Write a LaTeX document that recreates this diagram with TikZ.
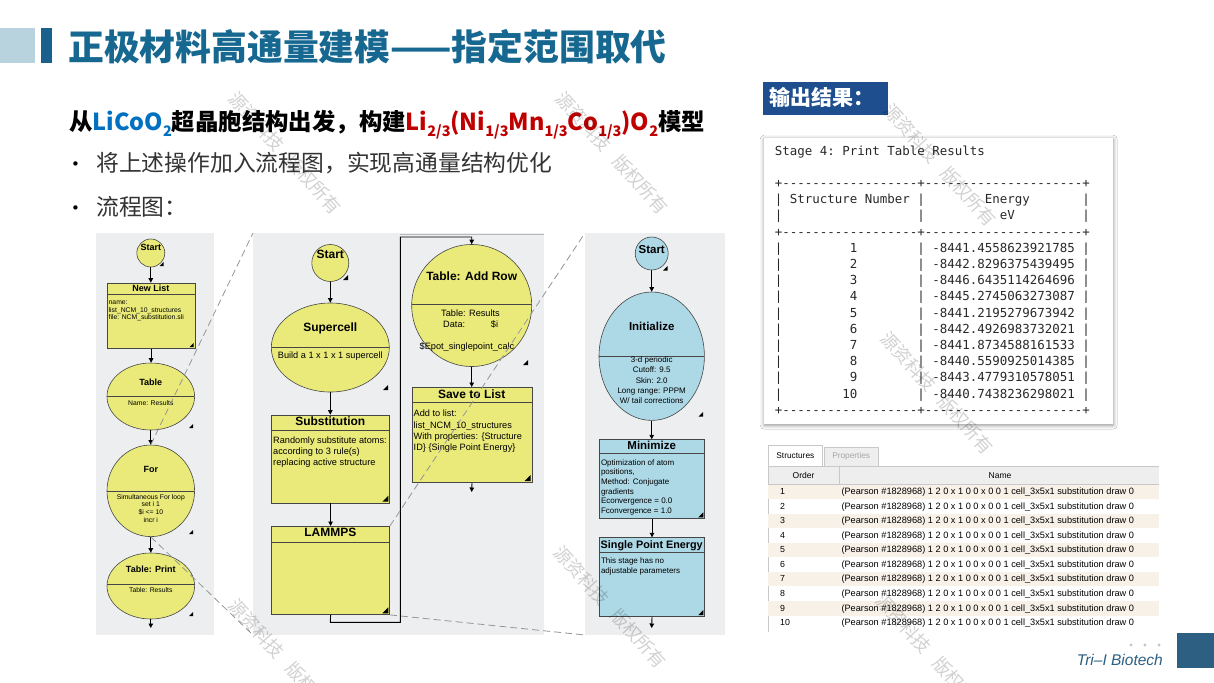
\documentclass[tikz,border=0pt]{standalone}
\usepackage{fontspec}
\setmainfont{Liberation Sans}
\setmonofont{DejaVu Sans Mono}
\newfontfamily\cjk{Noto Sans CJK SC}
\newfontfamily\dejavu{DejaVu Sans}
\usetikzlibrary{arrows.meta,shapes.geometric,shadows.blur}
\definecolor{ylw}{RGB}{233,234,122}
\definecolor{lbl}{RGB}{173,216,230}
\definecolor{pnl}{RGB}{236,238,240}
\definecolor{edge}{RGB}{70,70,70}
\definecolor{ttl}{RGB}{22,104,145}
\definecolor{sq}{RGB}{184,210,222}
\definecolor{barc}{RGB}{25,96,140}
\definecolor{outb}{RGB}{31,78,143}
\definecolor{lired}{RGB}{192,0,0}
\definecolor{liblu}{RGB}{0,112,192}
\definecolor{txtc}{RGB}{51,51,51}
\definecolor{rowb}{RGB}{247,241,232}
\definecolor{gridc}{RGB}{200,200,200}
\definecolor{hdrc}{RGB}{238,238,238}
\definecolor{logoc}{RGB}{44,95,130}
\definecolor{dshc}{RGB}{150,150,150}
\definecolor{monoc}{RGB}{40,40,40}
\newcommand\fs[1]{\fontsize{#1}{#1}\selectfont}
\newcommand\sbx[1]{\raisebox{-0.22em}{\fontsize{14.5}{14.5}\selectfont #1}}
\newcommand\tri[3]{\fill[black] (#1,#2) -- ++(-#3,0) -- ++(#3,-#3) -- cycle;}
\newcommand\ellnode[7]{%
  \node[draw=edge, fill=#2, ellipse, inner sep=0pt, line width=0.6pt,
        minimum width={2*#5}, minimum height={2*#6}] (#1) at (#3,#4) {};
  \begin{scope}
    \clip (#3,#4) ellipse [x radius=#5pt, y radius=#6pt];
    \draw[edge, line width=0.6pt] ({#3-#5},#7) -- ({#3+#5},#7);
  \end{scope}}
\newcommand\boxnode[7]{%
  \node[draw=edge, fill=#2, inner sep=0pt, line width=0.6pt, anchor=north west,
        minimum width={#5-#3}, minimum height={#6-#4}] (#1) at (#3,#4) {};
  \draw[edge, line width=0.6pt] (#3,#7) -- (#5,#7);}
\newcommand\txtlines[6]{%
  \foreach \mylin [count=\ii] in {#6}{%
    \node[#2] (#1\ii) at (#3,{#4+(\ii-1)*#5}) {\mylin};}}
\begin{document}
\begin{tikzpicture}[x=1pt,y=-1pt,
  arr/.style={-{Triangle[length=4.5pt,width=4.5pt]}, line width=0.9pt, black},
  zoomln/.style={dshc, line width=0.8pt, dash pattern=on 7pt off 4pt},
  lh/.style={anchor=base, inner sep=0pt, font=\bfseries\fs{9}},
  lb/.style={anchor=base west, inner sep=0pt, font=\fs{6.8}},
  lbc/.style={anchor=base, inner sep=0pt, font=\fs{6.8}},
  mh/.style={anchor=base, inner sep=0pt, font=\bfseries\fs{12}},
  mb/.style={anchor=base west, inner sep=0pt, font=\fs{9.2}},
  mbc/.style={anchor=base, inner sep=0pt, font=\fs{9.2}},
  rh/.style={anchor=base, inner sep=0pt, font=\bfseries\fs{11.5}},
  rb/.style={anchor=base west, inner sep=0pt, font=\fs{8}},
  rbc/.style={anchor=base, inner sep=0pt, font=\fs{8}},
  mono/.style={anchor=base west, inner sep=0pt, font=\ttfamily\fs{12.45}, text=monoc},
  bul/.style={anchor=base west, inner sep=0pt, font=\dejavu\fs{15}, text=black},
  wm/.style={inner sep=0pt, font=\cjk\fs{18}, text=black, opacity=0.18, rotate=-48}]
\useasboundingbox (0,0) rectangle (1214,682);
\fill[white] (0,0) rectangle (1214,682);

% ---------- title area ----------
\fill[sq] (0,28) rectangle (35,63);
\fill[barc] (41,28) rectangle (52,63);
\node[anchor=base west, inner sep=0pt, font=\cjk\bfseries\fs{35.8}, text=ttl] (title) at (68,60.5) {正极材料高通量建模——指定范围取代};
\node[anchor=base west, inner sep=0pt, font=\cjk\bfseries\fs{23.4}] (sub) at (69,131)
  {从{\color{liblu}LiCoO\sbx{2}}超晶胞结构出发，构建{\color{lired}Li\sbx{2/3}(Ni\sbx{1/3}Mn\sbx{1/3}Co\sbx{1/3})O\sbx{2}}模型};
\node[bul] (b1dot) at (71,169) {•};
\node[anchor=base west, inner sep=0pt, font=\cjk\fs{22.8}, text=txtc] (b1) at (96,171.7) {将上述操作加入流程图，实现高通量结构优化};
\node[bul] (b2dot) at (71,213) {•};
\node[anchor=base west, inner sep=0pt, font=\cjk\fs{22.8}, text=txtc] (b2) at (96,215.7) {流程图：};

% ---------- panels ----------
\fill[pnl] (96,233) rectangle (214,635);
\fill[pnl] (253,233) rectangle (544,635);
\fill[pnl] (585,233) rectangle (725,635);
\draw[gray!55, line width=0.6pt] (400,234) -- (544,234);

% ---------- left flowchart ----------
\node[draw=edge, fill=ylw, circle, minimum size=28, inner sep=0pt, line width=0.6pt] (ls) at (150.8,253) {};
\node[lh] (lsT) at (150.8,250) {Start};
\tri{163.5}{266}{4}
\boxnode{lnew}{ylw}{107}{282.7}{194.6}{348}{294.3}
\node[lh] (lnewT) at (150.8,291) {New List};
\txtlines{lnewB}{lb}{108.5}{304.4}{7.7}{name:,list\_NCM\_10\_structures,file: NCM\_substitution.sli}
\tri{193.6}{347}{4}
\ellnode{ltab}{ylw}{150.8}{396.5}{43.8}{33.5}{396.3}
\node[lh] (ltabT) at (150.8,385) {Table};
\node[lbc] (ltabB) at (150.8,405) {Name: Results};
\tri{193}{428}{4}
\ellnode{lfor}{ylw}{150.8}{490.8}{43.8}{45.8}{491}
\node[lh] (lforT) at (150.8,472.3) {For};
\txtlines{lforB}{lbc}{150.8}{499}{7.8}{Simultaneous For loop,set i 1,\$i <= 10,incr i}
\tri{193}{534}{4}
\ellnode{lprt}{ylw}{150.8}{586}{43.8}{33}{584.3}
\node[lh] (lprtT) at (150.8,572.3) {Table: Print};
\node[lbc] (lprtB) at (150.8,592.6) {Table: Results};
\tri{193}{616}{4}
\coordinate (lout) at (150.8,628);
\draw[arr] (ls.south) -- (ls.south |- lnew.north);
\draw[arr] (lnew.south) -- (lnew.south |- ltab.north);
\draw[arr] (ltab.south) -- (ltab.south |- lfor.north);
\draw[arr] (lfor.south) -- (lfor.south |- lprt.north);
\draw[arr] (lprt.south) -- (lout);

% ---------- middle flowchart ----------
\node[draw=edge, fill=ylw, circle, minimum size=37, inner sep=0pt, line width=0.6pt] (ms) at (330.3,263) {};
\node[mh] (msT) at (330.3,258.7) {Start};
\tri{348}{280}{5}
\ellnode{msup}{ylw}{330.3}{347.5}{59}{44.5}{347.7}
\node[mh] (msupT) at (330.3,331) {Supercell};
\node[mbc] (msupB) at (330.3,358.5) {Build a 1 x 1 x 1 supercell};
\tri{388}{390}{5}
\boxnode{msub}{ylw}{271.3}{414.7}{389.3}{502.7}{430}
\node[mh] (msubT) at (330.3,425.5) {Substitution};
\txtlines{msubB}{mb}{273}{443.2}{11.2}{Randomly substitute atoms:,according to 3 rule(s),replacing active structure}
\tri{388.3}{501.7}{6}
\boxnode{mlam}{ylw}{271.3}{526}{389.3}{614.3}{542.3}
\node[mh] (mlamT) at (330.3,536.5) {LAMMPS};
\tri{388.3}{613.3}{6}
\ellnode{madd}{ylw}{471.7}{305.5}{60}{61}{304.3}
\node[mh] (maddT) at (471.7,280.5) {Table: Add Row};
\node[mbc] (maddB1) at (470.5,316) {Table: Results};
\node[mb] (maddB2) at (443,327) {Data:};
\node[mb] (maddB3) at (490.7,327) {\$i};
\node[mbc] (maddB4) at (467,349.5) {\$Epot\_singlepoint\_calc};
\tri{528}{365}{5}
\boxnode{msave}{ylw}{411.7}{387}{531.7}{482}{402}
\node[mh] (msaveT) at (471.7,398.5) {Save to List};
\txtlines{msaveB}{mb}{413.5}{416.9}{11.1}{Add to list:,list\_NCM\_10\_structures,With properties: \{Structure,ID\} \{Single Point Energy\}}
\tri{530.7}{481}{6}
\coordinate (lp1) at (330.3,622.3);
\coordinate (lp2) at (400.3,622.3);
\coordinate (lp3) at (400.3,237);
\coordinate (lp4) at (471.7,237);
\coordinate (mout) at (471.7,492);
\draw[arr] (ms.south) -- (ms.south |- msup.north);
\draw[arr] (msup.south) -- (msup.south |- msub.north);
\draw[arr] (msub.south) -- (msub.south |- mlam.north);
\draw[arr] (mlam.south) -- (lp1) -- (lp2) -- (lp3) -- (lp4) -- (madd.north);
\draw[arr] (madd.south) -- (madd.south |- msave.north);
\draw[arr] (msave.south) -- (mout);

% ---------- right flowchart ----------
\node[draw=edge, fill=lbl, circle, minimum size=33, inner sep=0pt, line width=0.6pt] (rs) at (651.7,253.5) {};
\node[rh] (rsT) at (651.7,253) {Start};
\tri{667.5}{270.5}{4.5}
\ellnode{rini}{lbl}{651.7}{356.2}{52.7}{64.2}{356}
\node[rh] (riniT) at (651.7,330) {Initialize};
\txtlines{riniB}{rbc}{651.7}{362.5}{10.3}{3-d periodic,Cutoff: 9.5,Skin: 2.0,Long range: PPPM,W/ tail corrections}
\tri{703}{416.5}{4.5}
\boxnode{rmin}{lbl}{599}{439.3}{704.4}{518.3}{453.3}
\node[rh] (rminT) at (651.7,449) {Minimize};
\txtlines{rminB}{rb}{600.8}{465}{9.7}{Optimization of atom,{positions,},Method: Conjugate,gradients,Econvergence = 0.0,Fconvergence = 1.0}
\tri{703.4}{517.3}{5}
\boxnode{rspe}{lbl}{599}{537.3}{704.4}{616}{552.7}
\node[anchor=base, inner sep=0pt, font=\bfseries\fs{10.8}] (rspeT) at (651.7,548) {Single Point Energy};
\txtlines{rspeB}{rb}{600.8}{563}{10}{This stage has no,adjustable parameters}
\tri{703.4}{615}{5}
\coordinate (rout) at (651.7,628);
\draw[arr] (rs.south) -- (rs.south |- rini.north);
\draw[arr] (rini.south) -- (rini.south |- rmin.north);
\draw[arr] (rmin.south) -- (rmin.south |- rspe.north);
\draw[arr] (rspe.south) -- (rout);

% ---------- zoom lines ----------
\coordinate (mTL) at (253,233);
\coordinate (mBL) at (253,635);
\coordinate (rTL) at (585,233);
\coordinate (rBL) at (585,635);
\draw[zoomln] (lfor.north) -- (mTL);
\draw[zoomln] (lfor.south) -- (mBL);
\draw[zoomln] (mlam.north east) -- (rTL);
\draw[zoomln] (mlam.south east) -- (rBL);

% ---------- output label ----------
\node[fill=outb, anchor=north west, minimum width=125, minimum height=33, inner sep=0pt] (outlbl) at (763,82) {};
\node[anchor=base west, inner sep=0pt, font=\cjk\bfseries\fs{21}, text=white] (outlblT) at (769,106) {输出结果：};

% ---------- printed table ----------
\node[fill=white, anchor=north west, minimum width=349, minimum height=286, inner sep=0pt,
      blur shadow={shadow blur radius=4pt, shadow xshift=0pt, shadow yshift=-1.5pt, shadow opacity=45}] (outp) at (764,137.5) {};
\node[mono] (o0) at (774.75,155) {Stage~4:~Print~Table~Results};
\node[mono] (o2) at (774.75,187.4) {+------------------+---------------------+};
\node[mono] (o3) at (774.75,203.6) {|~Structure~Number~|~~~~~~~~Energy~~~~~~~|};
\node[mono] (o4) at (774.75,219.8) {|~~~~~~~~~~~~~~~~~~|~~~~~~~~~~eV~~~~~~~~~|};
\node[mono] (o5) at (774.75,236) {+------------------+---------------------+};
\node[mono] (o6) at (774.75,252.2) {|~~~~~~~~~1~~~~~~~~|~-8441.4558623921785~|};
\node[mono] (o7) at (774.75,268.4) {|~~~~~~~~~2~~~~~~~~|~-8442.8296375439495~|};
\node[mono] (o8) at (774.75,284.6) {|~~~~~~~~~3~~~~~~~~|~-8446.6435114264696~|};
\node[mono] (o9) at (774.75,300.8) {|~~~~~~~~~4~~~~~~~~|~-8445.2745063273087~|};
\node[mono] (o10) at (774.75,317) {|~~~~~~~~~5~~~~~~~~|~-8441.2195279673942~|};
\node[mono] (o11) at (774.75,333.2) {|~~~~~~~~~6~~~~~~~~|~-8442.4926983732021~|};
\node[mono] (o12) at (774.75,349.4) {|~~~~~~~~~7~~~~~~~~|~-8441.8734588161533~|};
\node[mono] (o13) at (774.75,365.6) {|~~~~~~~~~8~~~~~~~~|~-8440.5590925014385~|};
\node[mono] (o14) at (774.75,381.8) {|~~~~~~~~~9~~~~~~~~|~-8443.4779310578051~|};
\node[mono] (o15) at (774.75,398) {|~~~~~~~~10~~~~~~~~|~-8440.7438236298021~|};
\node[mono] (o16) at (774.75,414.2) {+------------------+---------------------+};

% ---------- structures list ----------
\node[draw=gridc, fill=white, anchor=north west, minimum width=54.3, minimum height=20.5, inner sep=0pt] (tabS) at (768,445) {};
\node[inner sep=0pt, font=\fs{8.3}] (tabST) at (tabS.center) {Structures};
\node[draw=gridc, fill=hdrc, anchor=north west, minimum width=54, minimum height=18.2, inner sep=0pt] (tabP) at (824,447.3) {};
\node[inner sep=0pt, font=\fs{8.3}, text=black!35] (tabPT) at (tabP.center) {Properties};
\fill[hdrc] (768,466.7) rectangle (1159,484.3);
\draw[gridc, line width=0.6pt] (768,632) -- (768,466.7) -- (1159,466.7);
\draw[gridc, line width=0.6pt] (768,484.3) -- (1159,484.3);
\draw[gridc, line width=0.6pt] (839,466.7) -- (839,484.3);
\node[inner sep=0pt, font=\fs{8.5}] (hOrd) at (803.5,475.5) {Order};
\node[inner sep=0pt, font=\fs{8.5}] (hName) at (1000,475.5) {Name};
\foreach \i in {1,...,10}{%
  \ifodd\i \fill[rowb] (768.4,{484.6+(\i-1)*14.55}) rectangle (1159,{484.6+\i*14.55}); \fi
  \node[anchor=base west, inner sep=0pt, font=\fs{8.8}] (ord\i) at (780,{494.6+(\i-1)*14.55}) {\i};
  \node[anchor=base west, inner sep=0pt, font=\fs{9.2}] (nam\i) at (841.3,{494.6+(\i-1)*14.55}) {(Pearson \#1828968) 1 2 0 x 1 0 0 x 0 0 1 cell\_3x5x1 substitution draw 0};
}

% ---------- logo ----------
\fill[gray!45] (1131,645) circle (1.6);
\fill[gray!45] (1145,645) circle (1.6);
\fill[gray!45] (1159,645) circle (1.6);
\node[anchor=base east, inner sep=0pt, font=\itshape\fs{15.5}, text=logoc] (logo) at (1163,665.5) {Tri–I Biotech};
\fill[logoc] (1177,633) rectangle (1214,668);

% ---------- watermarks ----------
\node[wm] (w1) at (285,153) {源资科技\hspace{0.7em}版权所有};
\node[wm] (w2) at (612,153) {源资科技\hspace{0.7em}版权所有};
\node[wm] (w3) at (940,165) {源资科技\hspace{0.7em}版权所有};
\node[wm] (w4) at (937,393) {源资科技\hspace{0.7em}版权所有};
\node[wm] (w5) at (610,607) {源资科技\hspace{0.7em}版权所有};
\node[wm] (w6) at (285,660) {源资科技\hspace{0.7em}版权所有};
\node[wm] (w7) at (932,655) {源资科技\hspace{0.7em}版权所有};
\end{tikzpicture}
\end{document}
